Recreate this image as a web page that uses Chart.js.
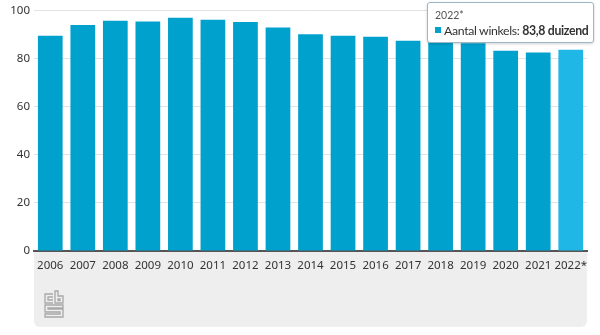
<!DOCTYPE html>
<html><head><meta charset="utf-8">
<script src="https://cdn.jsdelivr.net/npm/chart.js@4/dist/chart.umd.min.js"></script>
<style>
html,body{margin:0;padding:0;background:#fff;}
#wrap{position:relative;width:600px;height:335px;}
#tt{position:absolute;box-sizing:border-box;width:167px;height:41px;background:#fff;border:1px solid #9db7c6;border-radius:3px;box-shadow:0 1px 3px rgba(0,0,0,0.18);font-family:Lato,sans-serif;color:#333;padding:6px 2px 0 7px;white-space:nowrap;pointer-events:none;overflow:hidden;}
#tt .t{font-size:10.5px;color:#555;line-height:13px;}
#tt .b{font-size:12.3px;line-height:17px;letter-spacing:-0.35px;}
#tt .sq{display:inline-block;width:6px;height:6px;background:#00a1cd;margin-right:3px;vertical-align:2px;}
</style></head>
<body><div id="wrap"><canvas id="c" width="600" height="335"></canvas><div id="tt"></div></div>
<script>
const categories = ["2006","2007","2008","2009","2010","2011","2012","2013","2014","2015","2016","2017","2018","2019","2020","2021","2022*"];
const winkels = [89.6, 94.1, 95.9, 95.6, 97.1, 96.3, 95.4, 93.1, 90.3, 89.6, 89.2, 87.6, 87.6, 86.5, 83.4, 82.7, 83.8];
const yTicks = [0, 20, 40, 60, 80, 100];
const seriesName = "Aantal winkels";
const unit = "duizend";
const activeIndex = 16;

const baseColor = "#00a1cd";
const hoverColor = "#1fb7e6";
const colors = winkels.map((v,i)=> i===activeIndex ? hoverColor : baseColor);

const footer = {
  id:'footer',
  beforeDraw(chart){
    const {ctx, chartArea} = chart;
    ctx.save();
    ctx.fillStyle = '#eeeeee';
    ctx.beginPath();
    ctx.roundRect(chartArea.left, chartArea.bottom, chartArea.right-chartArea.left, 76, [0,0,6,6]);
    ctx.fill();
    // logo
    ctx.strokeStyle = '#a8a8a8';
    ctx.lineWidth = 1.3;
    const x = chartArea.left + 11, y = chartArea.bottom + 43;
    ctx.beginPath();
    // c
    ctx.moveTo(x+8, y); ctx.lineTo(x, y); ctx.lineTo(x, y+9); ctx.lineTo(x+8, y+9);
    ctx.moveTo(x+8, y+3); ctx.lineTo(x+3, y+3); ctx.lineTo(x+3, y+6); ctx.lineTo(x+8, y+6);
    // b
    ctx.moveTo(x+10, y-3); ctx.lineTo(x+10, y+9); ctx.lineTo(x+18, y+9); ctx.lineTo(x+18, y+2); ctx.lineTo(x+13, y+2); ctx.lineTo(x+13, y-3); ctx.closePath();
    ctx.moveTo(x+13, y+5); ctx.lineTo(x+15, y+5); ctx.lineTo(x+15, y+6.5); ctx.lineTo(x+13, y+6.5); ctx.closePath();
    // s
    ctx.moveTo(x+18, y+11); ctx.lineTo(x, y+11); ctx.lineTo(x, y+18); ctx.lineTo(x+15, y+18); ctx.lineTo(x+15, y+20); ctx.lineTo(x, y+20); ctx.lineTo(x, y+23); ctx.lineTo(x+18, y+23); ctx.lineTo(x+18, y+15); ctx.lineTo(x+3, y+15); ctx.lineTo(x+3, y+14); ctx.lineTo(x+18, y+14); ctx.closePath();
    ctx.stroke();
    ctx.restore();
  }
};

function externalTooltip(context){
  const el = document.getElementById('tt');
  const tm = context.tooltip;
  if (!tm || tm.opacity === 0 || !tm.dataPoints || !tm.dataPoints.length) { el.style.display='none'; return; }
  const dp = tm.dataPoints[0];
  const val = dp.raw.toFixed(1).replace('.', ',');
  el.innerHTML = '<div class="t">' + dp.label + '</div><div class="b"><span class="sq"></span>' + seriesName + ': <b>' + val + ' ' + unit + '</b></div>';
  el.style.display = 'block';
  el.style.left = '427px';
  el.style.top = '2px';
}

const chart = new Chart(document.getElementById('c'), {
  type:'bar',
  data:{ labels: categories, datasets:[{ label: seriesName, data: winkels, backgroundColor: colors, borderWidth:0, barPercentage:0.76, categoryPercentage:1 }]},
  options:{
    responsive:false, animation:false,
    events: [],
    layout:{ padding:{ left:0, right:13, top:10, bottom:8 } },
    plugins:{ legend:{display:false}, tooltip:{ enabled:false, external: externalTooltip, mode:'index', intersect:false } },
    scales:{
      x:{
        grid:{ display:false, drawTicks:false },
        border:{ display:true, color:'#555555', width:2 },
        ticks:{ color:'#333', font:{ family:'"Noto Sans", sans-serif', size:11.5 }, padding:8, maxRotation:0, autoSkip:false },
        afterFit(s){ s.height = 76; }
      },
      y:{
        min:0, max:100,
        afterBuildTicks(s){ s.ticks = yTicks.map(v=>({value:v})); },
        grid:{ color:'#e2e2e2', drawTicks:false },
        border:{ display:false },
        ticks:{ color:'#333', font:{ family:'"Noto Sans", sans-serif', size:11.5 }, padding:4 },
        afterFit(s){ s.width = 34; }
      }
    }
  },
  plugins:[footer]
});
chart.tooltip.setActiveElements([{datasetIndex:0, index:activeIndex}], {x:0,y:0});
chart.update();
externalTooltip({chart, tooltip: chart.tooltip});
</script>
</body></html>
